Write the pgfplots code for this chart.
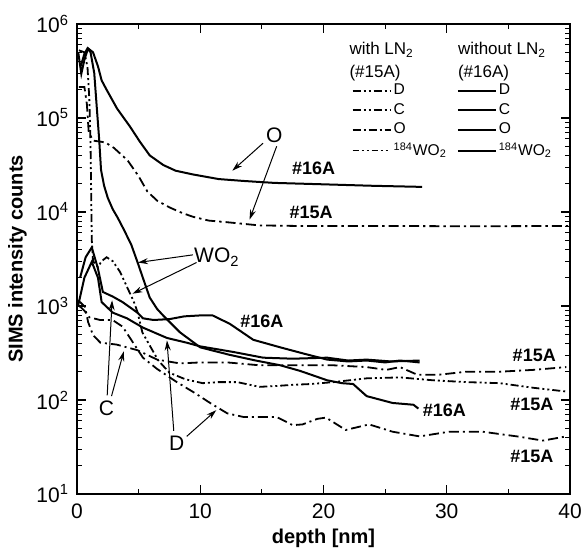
\documentclass[border=0pt]{standalone}
\usepackage{fontspec}
\setmainfont{Liberation Sans}
\usepackage{pgfplots}
\pgfplotsset{compat=1.18}
\usetikzlibrary{arrows.meta}

\pgfplotstableread{
x y
0.1 5.0e5
0.35 2.95e5
0.6 4.17e5
0.9 5.5e5
1.3 5.0e5
1.7 3.55e5
2.0 2.51e5
2.4 2.0e5
3.25 1.26e5
4.3 8.1e4
5.1 5.6e4
5.9 4.0e4
7.0 3.16e4
8.0 2.75e4
9.4 2.51e4
11.5 2.24e4
13.5 2.14e4
16 2.04e4
20 1.97e4
24 1.9e4
28 1.85e4
}\OsixA

\pgfplotstableread{
x y
0.3 3.55e5
0.6 4.8e5
0.85 5.5e5
1.1 5.0e5
1.4 3.0e5
1.6 1.32e5
1.8 5.9e4
1.95 2.8e4
2.2 1.9e4
2.5 1.41e4
2.9 1.07e4
3.3 8.7e3
3.8 6.5e3
4.4 4.5e3
4.9 2.95e3
5.4 1.9e3
5.9 1.23e3
6.5 930
7.0 790
8.35 525
10 363
12.4 302
14.5 263
16.5 234
18.1 204
20.3 162
21.5 151
22.4 148
23.5 110
25.6 93
27.3 89
27.7 81
}\WsixA

\pgfplotstableread{
x y
0.25 2.0e3
0.7 3.3e3
1.2 4.2e3
1.7 2.5e3
2.1 1.41e3
2.9 1.26e3
3.7 1.10e3
4.9 850
5.35 740
6.2 710
7.5 725
8.7 776
10 794
11 794
12.4 646
14.3 437
16.5 363
18.5 309
20.3 269
22 257
23.5 263
25 251
26.2 263
27.8 251
}\CsixA

\pgfplotstableread{
x y
0.1 1.02e3
0.6 2.0e3
1.2 2.95e3
1.7 2.0e3
2.0 1.10e3
2.9 850
4.05 740
5.35 589
7.3 457
8.9 407
10 372
12.7 324
15.1 282
17.5 275
20.3 282
22 263
23.5 269
25.5 257
27.8 263
}\DsixA

\pgfplotstableread{
x y
0.15 2.14e5
0.6 2.14e5
0.8 1.41e5
0.95 7.1e4
1.3 5.75e4
2.3 5.5e4
3.0 4.8e4
4.1 3.55e4
5.0 2.4e4
5.7 1.66e4
6.5 1.32e4
7.5 1.12e4
8.5 9.8e3
9.4 8.9e3
10.7 8.1e3
12.1 7.8e3
14.8 7.2e3
18 7.1e3
25 7.1e3
32 7.05e3
40 7.1e3
}\OfiveA

\pgfplotstableread{
x y
0.15 5.25e5
0.6 5.0e5
0.85 3.5e5
1.0 1.6e5
1.1 5.0e4
1.15 1.6e4
1.2 5.0e3
1.3 3.0e3
1.7 2.6e3
2.0 3.0e3
2.4 3.3e3
2.9 3.0e3
3.5 2.3e3
4.1 1.55e3
4.6 1.12e3
4.9 870
5.3 525
5.9 380
6.6 263
7.5 195
8.8 166
10.2 151
11.5 155
13 155
14.8 138
16.2 141
17.5 145
19 148
20.8 155
23.5 170
26.2 174
28.9 162
31.6 155
34.3 151
37 135
39.7 123
}\WfiveA

\pgfplotstableread{
x y
0.1 1.15e3
0.65 977
0.9 676
1.3 490
1.9 407
3.2 389
4.9 339
6.5 269
8.35 245
10 251
12.2 251
14.8 234
18.1 234
20.8 234
23.5 224
25.1 209
26.2 224
27.6 186
29.4 186
31.6 200
34.3 200
37 209
39.7 224
}\CfiveA

\pgfplotstableread{
x y
0.2 1.0e3
0.6 891
1.0 759
1.9 708
2.9 708
3.7 603
4.5 417
5.35 282
6.5 214
8.1 155
9.5 120
10.8 93
12.2 72
13.5 66
15 66
16.2 66
17.5 54
18.3 55
19.5 63
20.2 65
21.8 48
23.7 55
25.6 46
27.8 41
30.2 46
32.9 46
35.7 41
37.8 37
39.7 41
}\DfiveA

\begin{document}
\begin{tikzpicture}
\begin{axis}[
    name=ax,
    width=246.5pt, height=235pt, scale only axis,
    xmin=0, xmax=40, ymin=10, ymax=1e6, ymode=log,
    xtick={0,10,20,30,40}, xticklabels={0,10,20,30,40},
    minor xtick={5,15,25,35},
    ytick={10,100,1000,10000,100000,1000000},
    yticklabels={10\textsuperscript{1},10\textsuperscript{2},10\textsuperscript{3},10\textsuperscript{4},10\textsuperscript{5},10\textsuperscript{6}},
    tick align=inside,
    major tick length=4.5pt, minor tick length=2.5pt,
    every tick/.style={black, line width=0.6pt},
    axis line style={line width=0.9pt},
    tick label style={font=\fontsize{10.5}{12}\selectfont},
    xticklabel style={yshift=-1.5pt},
    yticklabel style={xshift=-0.5pt},
    xlabel={\bfseries depth [nm]},
    ylabel={\bfseries SIMS intensity counts},
    label style={font=\fontsize{10}{12}\selectfont},
    xlabel style={yshift=2pt},
    ylabel style={yshift=-2pt},
    legend columns=2,
    legend cell align=left,
    legend image code/.code={\draw[#1] (0pt,0pt) -- (19pt,0pt);},
    legend style={draw=none, fill=none, at={(0.556,0.879)}, anchor=north west,
        inner sep=0pt, row sep=0pt,
        nodes={inner xsep=1pt, inner ysep=1.4pt},
        font=\fontsize{7.8}{9.5}\selectfont,
        /tikz/every even column/.append style={column sep=4pt}},
    solid16/.style={black, line width=1pt},
    dd/.style={black, line width=0.9pt},
]
\addlegendimage{dd, dash pattern=on 4pt off 1.5pt on 1pt off 1.5pt on 1pt off 1.5pt}
\addlegendentry{D}
\addlegendimage{solid16}
\addlegendentry{D}
\addlegendimage{dd, dash pattern=on 4pt off 1.5pt on 1pt off 1.5pt on 1pt off 1.5pt}
\addlegendentry{C}
\addlegendimage{solid16}
\addlegendentry{C}
\addlegendimage{dd, line width=1.1pt, dash pattern=on 4pt off 1.5pt on 1pt off 1.5pt}
\addlegendentry{O}
\addlegendimage{solid16}
\addlegendentry{O}
\addlegendimage{dd, dash pattern=on 3pt off 1.5pt on 1pt off 1.5pt on 1pt off 1.5pt}
\addlegendentry{\textsuperscript{184}WO\textsubscript{2}}
\addlegendimage{solid16}
\addlegendentry{\textsuperscript{184}WO\textsubscript{2}}

% without LN2 (#16A)
\addplot[solid16, forget plot] table {\OsixA};
\addplot[solid16, forget plot] table {\WsixA};
\addplot[solid16, forget plot] table {\CsixA};
\addplot[solid16, forget plot] table {\DsixA};
% with LN2 (#15A)
\addplot[dd, dash pattern=on 5pt off 2pt on 1.2pt off 2pt, forget plot] table {\OfiveA};
\addplot[dd, dash pattern=on 4pt off 1.5pt on 1pt off 1.5pt on 1pt off 1.5pt, forget plot] table {\WfiveA};
\addplot[dd, dash pattern=on 5pt off 2pt on 1pt off 2pt, forget plot] table {\CfiveA};
\addplot[dd, dash pattern=on 5pt off 2pt on 1pt off 2pt, forget plot] table {\DfiveA};

% legend headers
\node[anchor=north west, align=left, font=\fontsize{8.5}{11.5}\selectfont, inner sep=0pt]
    at (rel axis cs:0.552,0.962) {with LN\textsubscript{2}\\(\#15A)};
\node[anchor=north west, align=left, font=\fontsize{8.5}{11.5}\selectfont, inner sep=0pt]
    at (rel axis cs:0.772,0.962) {without LN\textsubscript{2}\\(\#16A)};

% sample labels
\begin{scope}[font=\fontsize{9}{10}\selectfont\bfseries]
\node at (axis cs:19.2,2.95e4) {\#16A};
\node at (axis cs:19.0,9.8e3) {\#15A};
\node at (axis cs:15.0,680) {\#16A};
\node at (axis cs:29.8,78) {\#16A};
\node at (axis cs:37.1,300) {\#15A};
\node at (axis cs:36.9,89) {\#15A};
\node at (axis cs:36.9,25) {\#15A};
\end{scope}

% species labels and arrows
\begin{scope}[font=\fontsize{10.5}{12}\selectfont]
\node at (axis cs:16.0,6.6e4) {O};
\node at (axis cs:11.35,3.3e3) {WO\textsubscript{2}};
\node at (axis cs:2.4,82) {C};
\node at (axis cs:8.1,35) {D};
\end{scope}
\begin{scope}[-{Stealth[length=5pt,width=3pt]}, line width=0.5pt]
\draw (axis cs:15.1,5.4e4) -- (axis cs:12.6,2.75e4);
\draw (axis cs:16.2,5.0e4) -- (axis cs:14.0,8.3e3);
\draw (axis cs:9.4,3.5e3) -- (axis cs:4.95,2.9e3);
\draw (axis cs:9.7,2.9e3) -- (axis cs:4.5,1.35e3);
\draw (axis cs:2.45,112) -- (axis cs:2.85,1.15e3);
\draw (axis cs:2.8,110) -- (axis cs:3.8,330);
\draw (axis cs:7.85,47) -- (axis cs:7.3,430);
\draw (axis cs:8.9,41) -- (axis cs:11.3,78);
\end{scope}
\end{axis}
\pgfresetboundingbox
\path[use as bounding box] ([xshift=-38.5pt,yshift=-28pt]ax.south west) rectangle ([xshift=6pt,yshift=12pt]ax.north east);
\end{tikzpicture}
\end{document}
